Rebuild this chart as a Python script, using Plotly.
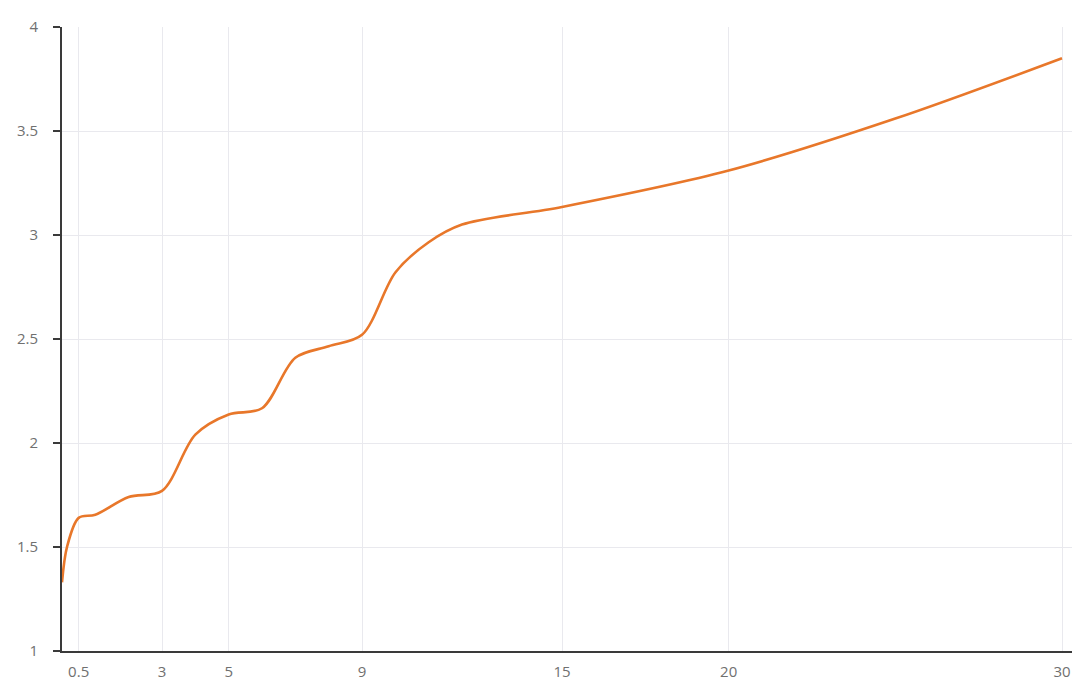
import plotly.graph_objects as go

# Data
x_vals = [0, 0.15, 0.5, 1, 2, 3, 4, 5, 6, 7, 8, 9, 10, 11, 12, 15, 20, 25, 30]
y_vals = [1.33, 1.50, 1.64, 1.655, 1.74, 1.77, 2.04, 2.137, 2.167, 2.41, 2.465, 2.52, 2.82, 2.965, 3.05, 3.135, 3.31, 3.56, 3.85]

x_ticks = [0.5, 3, 5, 9, 15, 20, 30]
x_tick_text = ["0.5", "3", "5", "9", "15", "20", "30"]
y_ticks = [1, 1.5, 2, 2.5, 3, 3.5, 4]
y_tick_text = ["1", "1.5", "2", "2.5", "3", "3.5", "4"]

fig = go.Figure()
fig.add_trace(go.Scatter(
    x=x_vals, y=y_vals, mode="lines",
    line=dict(color="#E8772A", width=2.6, shape="spline", smoothing=0.9),
    hoverinfo="x+y", showlegend=False,
))

font = dict(family="Open Sans, Noto Sans, sans-serif", size=15, color="#707070")

# page body has an 8px margin, so the figure is sized/offset to compensate
fig.update_layout(
    width=1072, height=683,
    margin=dict(l=54, r=8, t=19, b=40),
    paper_bgcolor="white", plot_bgcolor="white",
    font=font,
    xaxis=dict(
        range=[0, 30.3], tickmode="array", tickvals=x_ticks, ticktext=x_tick_text,
        showgrid=True, gridcolor="#e9e9ee", gridwidth=1,
        showline=True, linecolor="#3a3a3a", linewidth=2,
        ticks="", zeroline=False, ticklabelstandoff=6,
        tickfont=font,
    ),
    yaxis=dict(
        range=[1, 4], tickmode="array", tickvals=y_ticks, ticktext=y_tick_text,
        showgrid=True, gridcolor="#e9e9ee", gridwidth=1,
        showline=True, linecolor="#3a3a3a", linewidth=2,
        ticks="outside", ticklen=7, tickwidth=2, tickcolor="#3a3a3a",
        zeroline=False, ticklabelstandoff=12,
        tickfont=font,
    ),
)

fig.write_html("out.html")
